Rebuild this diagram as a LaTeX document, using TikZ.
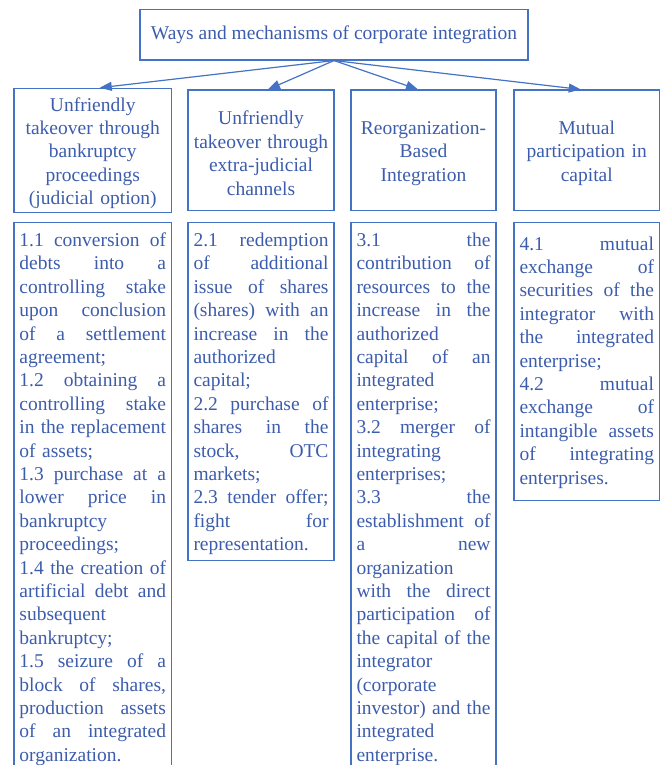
\documentclass[tikz,border=0pt]{standalone}
\usepackage{fontspec}
\setmainfont{Liberation Serif}
\usepackage{tikz}
\usetikzlibrary{arrows.meta}

\definecolor{boxblue}{RGB}{68,114,196}
\definecolor{textblue}{RGB}{60,92,172}
\setlength{\parindent}{0pt}
% one justified line, and a strut for the first line
\newcommand{\jl}[1]{\makebox[\hsize][s]{\spaceskip=0pt\xspaceskip=0pt\relax #1}}
\newcommand{\fs}[1]{\rule{0pt}{#1}}

\tikzset{
  txt/.style={text=textblue, font=\fontsize{19.5}{23.4}\selectfont},
  topbox/.style={txt, draw=boxblue, line width=1.1pt, minimum width=388pt, minimum height=50.5pt},
  headbox/.style={txt, draw=boxblue, line width=1.1pt, align=center, inner xsep=0pt, minimum height=120.5pt,
    execute at begin node=\fs{19.5pt}},
  listbox/.style={txt, draw=boxblue, line width=1.1pt, align=left, anchor=north, inner xsep=5.5pt, inner ysep=6pt},
  arr/.style={draw=boxblue, line width=1.2pt, -{Triangle[length=12pt,width=9pt]}}
}

\begin{document}
\begin{tikzpicture}[x=1pt,y=-1pt]
    \useasboundingbox (0,0) rectangle (663,765);
    \clip (0,0) rectangle (663,765);

    \node[topbox] (top) at (334,34.75) {Ways and mechanisms of corporate integration};

    \node[headbox, minimum width=157.5pt, text width=146.5pt] (h1) at (92.75,150.25)
        {Unfriendly\\takeover through\\bankruptcy\\proceedings\\(judicial option)};
    \node[headbox, minimum width=146pt, text width=135pt] (h2) at (261,150.25)
        {Unfriendly\\takeover through\\extra-judicial\\channels};
    \node[headbox, minimum width=145pt, text width=134pt] (h3) at (423.5,150.25)
        {Reorganization-\\Based\\Integration};
    \node[headbox, minimum width=145.5pt, text width=134.5pt] (h4) at (586.75,150.25)
        {Mutual\\participation in\\capital};

    \draw[arr] (top.south) -- ([xshift=7pt]h1.north);
    \draw[arr] (top.south) -- ([xshift=7pt]h2.north);
    \draw[arr] (top.south) -- ([xshift=-5.5pt]h3.north);
    \draw[arr] (top.south) -- ([xshift=-6pt]h4.north);

    \node[listbox, text width=146.5pt] (d1) at (92.75,222) {\fs{18pt}\jl{1.1 conversion of}\\
        \jl{debts into a}\\ \jl{controlling stake}\\ \jl{upon conclusion}\\ \jl{of a settlement}\\
        agreement;\\ \jl{1.2 obtaining a}\\ \jl{controlling stake}\\ \jl{in the replacement}\\
        of assets;\\ \jl{1.3 purchase at a}\\ \jl{lower price in}\\ bankruptcy\\ proceedings;\\
        \jl{1.4 the creation of}\\ \jl{artificial debt and}\\ subsequent\\ bankruptcy;\\
        \jl{1.5 seizure of a}\\ \jl{block of shares,}\\ \jl{production assets}\\
        \jl{of an integrated}\\ organization.};
    \node[listbox, text width=135pt] (d2) at (261,222) {\fs{18pt}\jl{2.1 redemption}\\
        \jl{of additional}\\ \jl{issue of shares}\\ \jl{(shares) with an}\\ \jl{increase in the}\\
        authorized\\ capital;\\ \jl{2.2 purchase of}\\ \jl{shares in the}\\ \jl{stock, OTC}\\
        markets;\\ \jl{2.3 tender offer;}\\ \jl{fight for}\\ representation.};
    \node[listbox, text width=134pt] (d3) at (423.5,222) {\fs{18pt}\jl{3.1 the}\\
        \jl{contribution of}\\ \jl{resources to the}\\ \jl{increase in the}\\ authorized\\
        \jl{capital of an}\\ integrated\\ enterprise;\\ \jl{3.2 merger of}\\ integrating\\
        enterprises;\\ \jl{3.3 the}\\ \jl{establishment of}\\ \jl{a new}\\ organization\\
        \jl{with the direct}\\ \jl{participation of}\\ \jl{the capital of the}\\ integrator\\
        (corporate\\ \jl{investor) and the}\\ integrated\\ enterprise.};
    \node[listbox, inner ysep=12pt, text width=134.5pt] (d4) at (586.75,222) {\fs{15.5pt}\jl{4.1 mutual}\\
        \jl{exchange of}\\ \jl{securities of the}\\ \jl{integrator with}\\ \jl{the integrated}\\
        enterprise;\\ \jl{4.2 mutual}\\ \jl{exchange of}\\ \jl{intangible assets}\\
        \jl{of integrating}\\ enterprises.};
\end{tikzpicture}
\end{document}
